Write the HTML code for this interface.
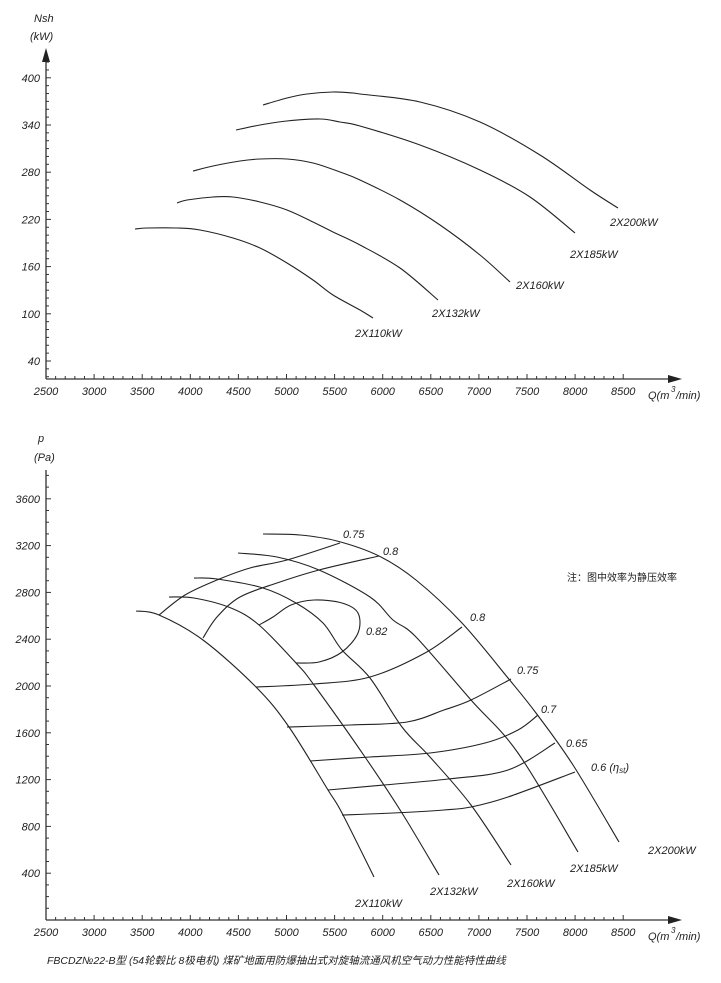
<!DOCTYPE html>
<html><head><meta charset="utf-8"><style>
html,body{margin:0;padding:0;background:#fff;}
svg{display:block;}
text{font-family:"Liberation Sans","Noto Sans CJK SC",sans-serif;font-style:italic;font-size:11px;fill:#222;}
.c{fill:none;stroke:#222;stroke-width:1.1;}
.a{stroke:#333;stroke-width:1.3;}
.t{stroke:#333;stroke-width:1;}
</style></head><body>
<svg id="s" width="721" height="983" viewBox="0 0 721 983" xmlns="http://www.w3.org/2000/svg">
<!-- top axes -->
<line class="a" x1="46" y1="379" x2="672" y2="379"/>
<polygon points="682,379,668,375,668,383" fill="#222"/>
<line class="a" x1="46" y1="379" x2="46" y2="58"/>
<polygon points="46,48,42,62,50,62" fill="#222"/>
<text x="34" y="22">Nsh</text><text x="30" y="40">(kW)</text>
<g id="topticks"></g>
<text x="648" y="399">Q(m</text><text x="671" y="392" style="font-size:8px">3</text><text x="676" y="399">/min)</text>
<!-- top curves -->
<polyline class="c" points="135,229 147,228 177,228 200,230 233,238 260,248 287,263 313,280 333,295 360,310 373,318"/>
<polyline class="c" points="177,203 187,200 213,197 233,197 260,202 287,210 313,222 333,232 360,245 400,268 438,300"/>
<polyline class="c" points="193,171 213,166 240,161 260,159 287,159 313,163 340,172 360,180 400,200 440,225 480,255 510,282"/>
<polyline class="c" points="236,130 260,125 287,121 320,119 340,122 360,126 420,145 480,170 530,197 575,233"/>
<polyline class="c" points="263,105 287,98 307,94 333,92 353,93 360,94 420,102 480,122 540,155 590,190 618,208"/>
<text x="610" y="226">2X200kW</text>
<text x="570" y="258">2X185kW</text>
<text x="516" y="289">2X160kW</text>
<text x="432" y="317">2X132kW</text>
<text x="355" y="337">2X110kW</text>

<!-- bottom axes -->
<line class="a" x1="46" y1="920" x2="672" y2="920"/>
<polygon points="682,920,668,916,668,924" fill="#222"/>
<line class="a" x1="46" y1="920" x2="46" y2="470"/>
<text x="38" y="442">p</text><text x="34" y="461">(Pa)</text>
<g id="botticks"></g>
<text x="648" y="940">Q(m</text><text x="671" y="933" style="font-size:8px">3</text><text x="676" y="940">/min)</text>
<!-- pressure curves -->
<polyline class="c" points="136,611 159,615 203,640 256,687 289,727 328,790 342,813 374,877"/>
<polyline class="c" points="169,597 194,598 231,608 259,625 296,663 314,685 365,757 402,813 439,875"/>
<polyline class="c" points="194,578 217,579 263,588 296,603 323,623 342,650 370,678 402,727 430,757 471,805 511,865"/>
<polyline class="c" points="238,553 277,557 319,570 370,597 393,620 416,637 471,700 518,753 578,852"/>
<polyline class="c" points="263,534 300,535 337,541 379,556 416,580 462,623 508,678 536,713 573,765 619,842"/>
<!-- efficiency -->
<polyline class="c" points="342,815 393,813 444,810 471,807 508,797 575,772"/>
<polyline class="c" points="328,790 384,785 448,779 508,770 555,743"/>
<polyline class="c" points="310,761 370,757 430,753 485,743 518,730 538,715"/>
<polyline class="c" points="287,727 351,725 407,722 444,710 471,700 511,679"/>
<polyline class="c" points="256,687 314,684 370,677 425,653 462,627"/>
<polyline class="c" points="259,625 273,617 291,605 314,600 342,603 358,613 358,633 342,652 319,662 296,663"/>
<polyline class="c" points="203,638 217,617 240,597 277,583 319,570 379,556"/>
<polyline class="c" points="159,615 185,595 217,580 250,568 287,560 340,543"/>
<text x="343" y="538">0.75</text>
<text x="383" y="555">0.8</text>
<text x="470" y="621">0.8</text>
<text x="366" y="635">0.82</text>
<text x="517" y="674">0.75</text>
<text x="541" y="713">0.7</text>
<text x="566" y="747">0.65</text>
<text x="591" y="771">0.6 (η<tspan style="font-size:8px" dy="2">st</tspan><tspan dy="-2">)</tspan></text>
<text x="648" y="854">2X200kW</text>
<text x="570" y="872">2X185kW</text>
<text x="507" y="887">2X160kW</text>
<text x="430" y="895">2X132kW</text>
<text x="355" y="907">2X110kW</text>
<text x="567" y="581" style="font-style:normal;font-size:10px">注：图中效率为静压效率</text>
<text x="47" y="964" style="font-size:10.5px">FBCDZ№22-B型 (54轮毂比 8极电机) 煤矿地面用防爆抽出式对旋轴流通风机空气动力性能特性曲线</text>
</svg>
<script>
var NS="http://www.w3.org/2000/svg";
function L(g,x1,y1,x2,y2){var l=document.createElementNS(NS,"line");l.setAttribute("x1",x1);l.setAttribute("y1",y1);l.setAttribute("x2",x2);l.setAttribute("y2",y2);l.setAttribute("class","t");g.appendChild(l);}
function T(g,x,y,s,anchor){var t=document.createElementNS(NS,"text");t.setAttribute("x",x);t.setAttribute("y",y);if(anchor)t.setAttribute("text-anchor",anchor);t.textContent=s;g.appendChild(t);}
function xs(q){return 46+(q-2500)*0.0962;}
["topticks","botticks"].forEach(function(id,i){
 var g=document.getElementById(id);var ay=i?920:379;
 for(var q=2500;q<=8500;q+=100){var x=xs(q);var maj=q%500==0;L(g,x,ay,x,ay-(maj?5:3));if(maj)T(g,x,ay+16,q,"middle");}
});
var g=document.getElementById("topticks");
for(var n=20;n<=420;n+=10){var y=361-(n-40)*0.7867;if(y<60)break;var maj=(n-40)%60==0;L(g,46,y,46+(maj?5:3),y);if(maj)T(g,40,y+4,n,"end");}
g=document.getElementById("botticks");
for(var p=100;p<=3800;p+=100){var y=920-p*0.117;if(y<472)break;var maj=p%400==0;L(g,46,y,46+(maj?5:3),y);if(maj)T(g,40,y+4,p,"end");}
// smooth polylines
Array.prototype.slice.call(document.querySelectorAll("polyline.c")).forEach(function(pl){
 var a=pl.getAttribute("points").trim().split(/\s+/).map(function(s){return s.split(",").map(Number);});
 var d="M"+a[0][0]+","+a[0][1];
 for(var i=0;i<a.length-1;i++){var p0=a[i-1]||a[i],p1=a[i],p2=a[i+1],p3=a[i+2]||p2;
  var c1=[p1[0]+(p2[0]-p0[0])/6,p1[1]+(p2[1]-p0[1])/6],c2=[p2[0]-(p3[0]-p1[0])/6,p2[1]-(p3[1]-p1[1])/6];
  d+=" C"+c1[0]+","+c1[1]+" "+c2[0]+","+c2[1]+" "+p2[0]+","+p2[1];}
 var p=document.createElementNS(NS,"path");p.setAttribute("d",d);p.setAttribute("class","c");pl.parentNode.replaceChild(p,pl);
});
</script>
</body></html>
